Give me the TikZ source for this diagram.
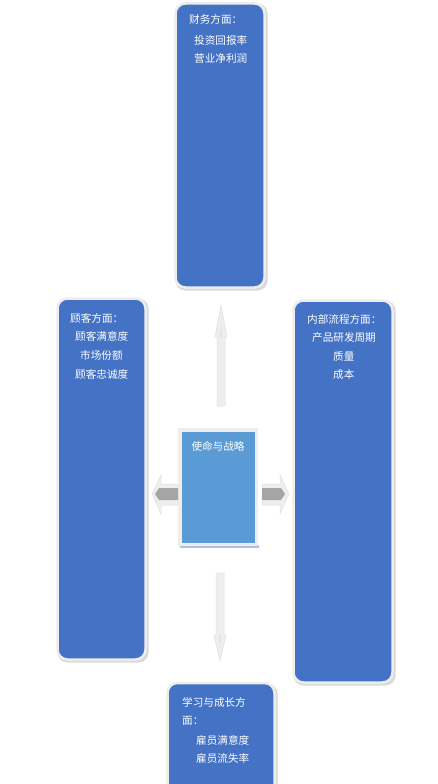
\documentclass[tikz,border=0pt]{standalone}
\usepackage{fontspec}
\newfontfamily\cjk{Noto Sans CJK SC}
\definecolor{boxblue}{HTML}{4472C4}
\definecolor{midblue}{HTML}{5B9BD5}
\definecolor{rimgray}{HTML}{EDEDED}
\definecolor{arrgray}{HTML}{A5A5A5}
\definecolor{lightarr}{HTML}{EEEEEE}
\begin{document}
\begin{tikzpicture}[x=1pt,y=-1pt,
  bigbox/.style={rectangle, rounded corners=10pt, fill=boxblue, draw=rimgray, line width=2.5pt, inner sep=0pt},
  shadowbox/.style={rectangle, rounded corners=10pt, fill=black!15, draw=none, inner sep=0pt},
  txt/.style={anchor=west, inner sep=0pt, text=white, font=\cjk\fontsize{10.6}{12}\selectfont},
  blockarr/.style={fill=lightarr, draw=black!12, line width=0.5pt},
  innerarr/.style={fill=arrgray, draw=none}]
\useasboundingbox (0,0) rectangle (438,784);
\clip (0,0) rectangle (438,784);
\fill[white] (0,0) rectangle (438,784);
% shadows
\node[shadowbox, minimum width=92pt, minimum height=287pt] at (221.5,147) {};
\node[shadowbox, minimum width=91pt, minimum height=364pt] at (103,480.5) {};
\node[shadowbox, minimum width=102pt, minimum height=385pt] at (344.5,493) {};
\node[shadowbox, minimum width=110pt, minimum height=126pt] at (222.5,746.5) {};
% boxes
\node[bigbox, minimum width=89pt, minimum height=284pt] (fin) at (220,145.5) {};
\node[bigbox, minimum width=88pt, minimum height=361pt] (cus) at (101.5,479) {};
\node[bigbox, minimum width=99pt, minimum height=382pt] (int) at (343,491.5) {};
\node[bigbox, minimum width=107pt, minimum height=124pt] (lrn) at (221,745) {};
% center
\fill[boxblue!45] (180,545) rectangle (259,547.5);
\node[rectangle, fill=rimgray, minimum width=80pt, minimum height=118pt, inner sep=0pt] (ctr) at (218,487) {};
\node[rectangle, fill=midblue, minimum width=73pt, minimum height=111pt, inner sep=0pt] (ctrin) at (218.5,487.5) {};
\node[inner sep=0pt, text=white, font=\cjk\fontsize{10.6}{12}\selectfont] (ctrt) at (218,446) {使命与战略};
% texts
\node[txt] (f1) at (189,19) {财务方面：};
\node[txt] (f2) at (194,40) {投资回报率};
\node[txt] (f3) at (194,58) {营业净利润};
\node[txt] (c1) at (70,318) {顾客方面：};
\node[txt] (c2) at (75,336) {顾客满意度};
\node[txt] (c3) at (80,355) {市场份额};
\node[txt] (c4) at (75,374) {顾客忠诚度};
\node[txt] (i1) at (307,319) {内部流程方面：};
\node[txt] (i2) at (312,337) {产品研发周期};
\node[txt] (i3) at (333,356) {质量};
\node[txt] (i4) at (333,375) {成本};
\node[txt] (l1) at (182,702) {学习与成长方};
\node[txt] (l2) at (182,721) {面：};
\node[txt] (l3) at (196,740) {雇员满意度};
\node[txt] (l4) at (196,758) {雇员流失率};
% up arrow
\coordinate (upbase) at (221,406);
\coordinate (uptip) at (221,305);
\draw[blockarr] ([xshift=-4pt]upbase) -- ++(0,-69) -- ++(-2,0) -- (uptip) -- ([xshift=6pt]upbase |- 0,337) -- ++(-2,0) -- ([xshift=4pt]upbase) -- cycle;
\fill[black!10] (219.5,337) -- (221,325) -- (222.5,337) -- cycle;
% down arrow
\coordinate (dnbase) at (220,573);
\coordinate (dntip) at (220,661);
\draw[blockarr] ([xshift=-4pt]dnbase) -- ++(0,62) -- ++(-2,0) -- (dntip) -- (226,635) -- ++(-2,0) -- ([xshift=4pt]dnbase) -- cycle;
\fill[black!10] (218.5,635) -- (220,648) -- (221.5,635) -- cycle;
% left arrow
\coordinate (ltip) at (152,494);
\draw[blockarr] (178,484) -- (161,484) -- (161,475) -- (ltip) -- (161,514) -- (161,505) -- (178,505) -- cycle;
\fill[innerarr] (178,488) -- (159,488) -- (155,494) -- (159,500) -- (178,500) -- cycle;
% right arrow
\coordinate (rtip) at (289,494);
\draw[blockarr] (262,484) -- (280,484) -- (280,475) -- (rtip) -- (280,514) -- (280,505) -- (262,505) -- cycle;
\fill[innerarr] (262,488) -- (281,488) -- (285,494) -- (281,500) -- (262,500) -- cycle;
\end{tikzpicture}
\end{document}
